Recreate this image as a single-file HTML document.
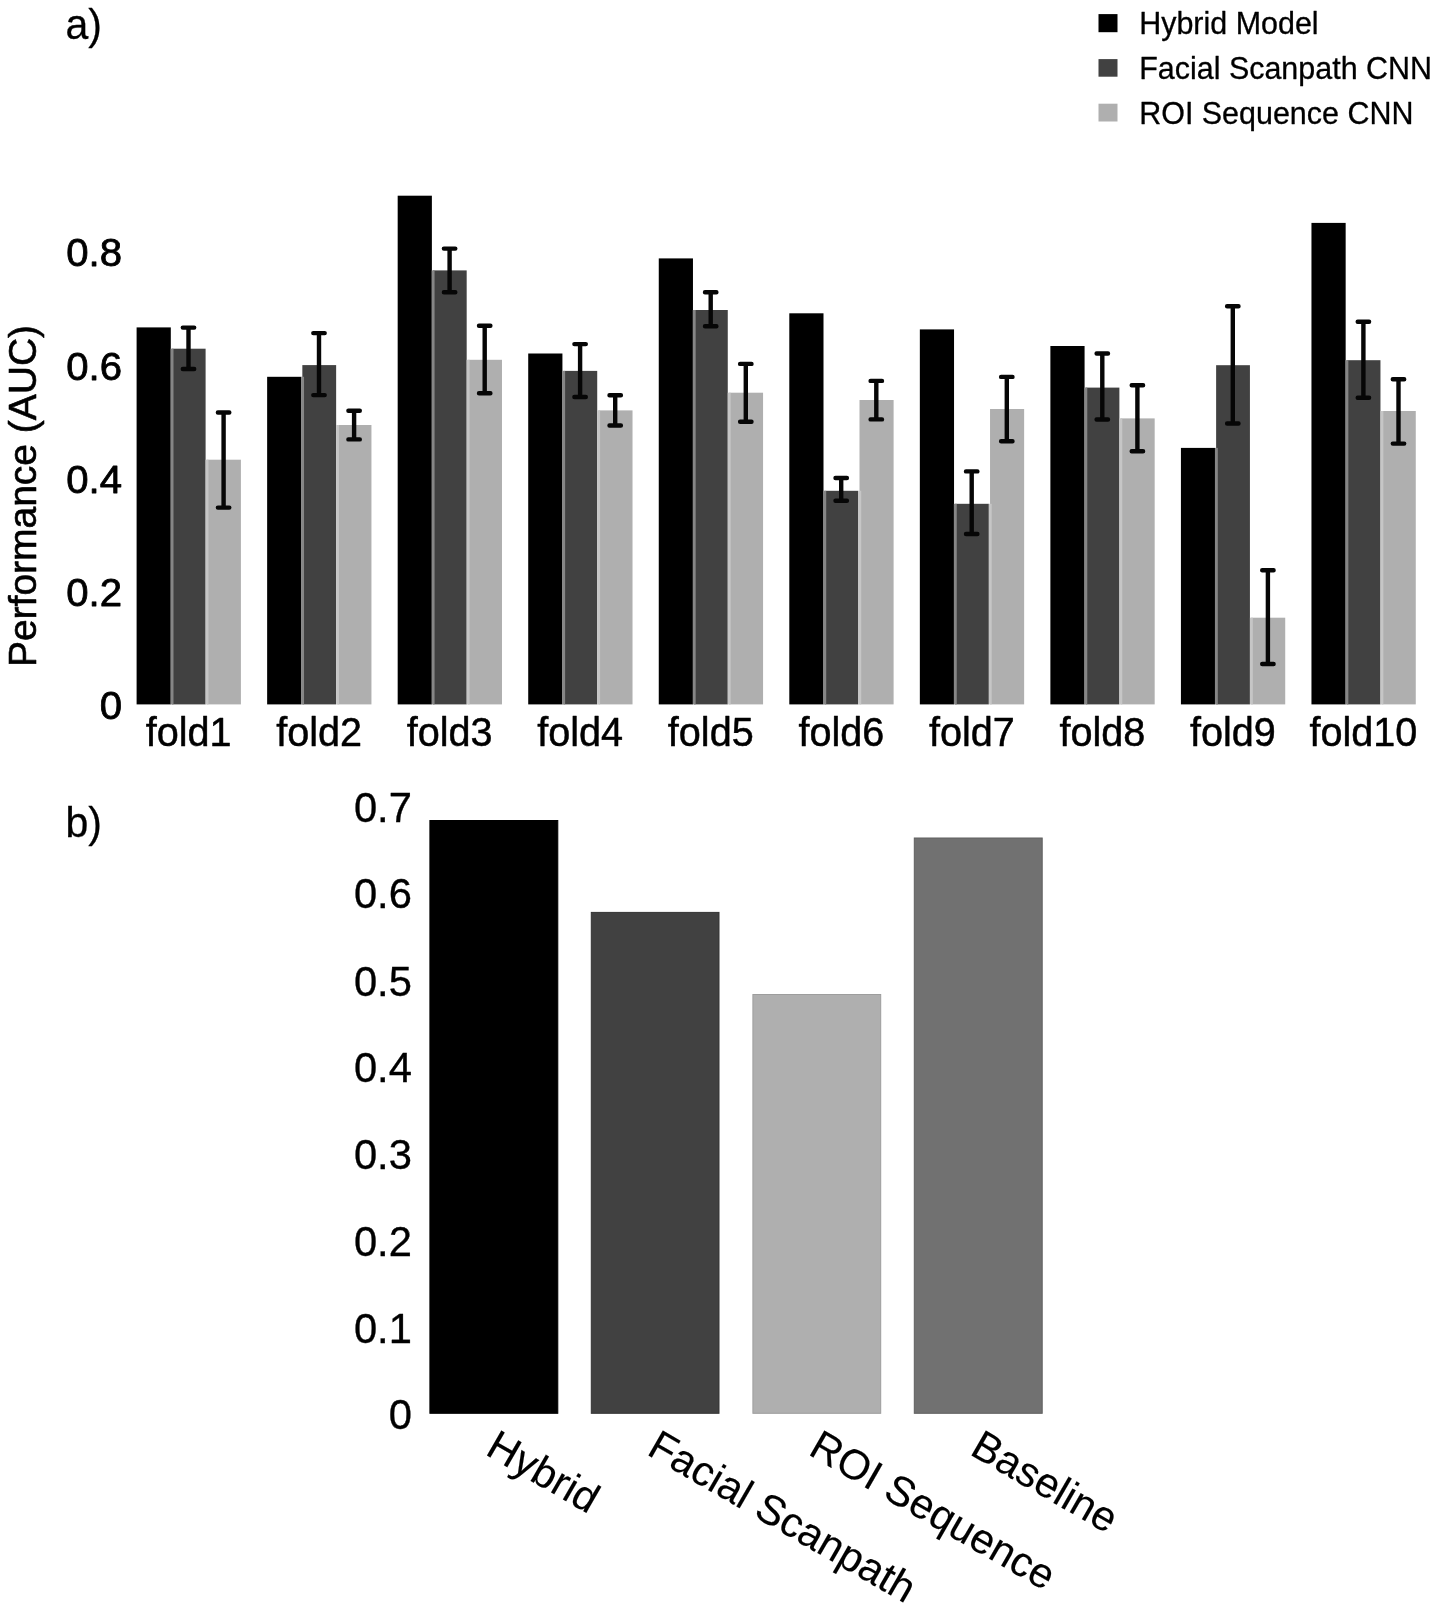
<!DOCTYPE html>
<html lang="en"><head><meta charset="utf-8"><title>Figure: model performance</title>
<style>
html,body{margin:0;padding:0;background:#fff;}
body{width:1441px;height:1612px;overflow:hidden;}
svg{display:block;}
text{font-family:"Liberation Sans", sans-serif;fill:#000;stroke:#000;stroke-width:0.8px;stroke-linejoin:round;}
</style></head><body>
<svg width="1441" height="1612" viewBox="0 0 1441 1612" style="filter:blur(0.7px)">
<rect x="0" y="0" width="1441" height="1612" fill="#ffffff"/>

<text transform="translate(65.50,39.40) scale(0.97,1)" font-size="42.3" style="stroke-width:0.3px">a)</text>
<text transform="translate(65.50,836.50) scale(0.97,1)" font-size="42.3" style="stroke-width:0.3px">b)</text>
<rect x="1098.5" y="14.1" width="19.0" height="18.1" fill="#000000"/>
<text transform="translate(1139.20,34.20) scale(0.999,1)" font-size="30.5" style="stroke-width:0.3px">Hybrid Model</text>
<rect x="1098.5" y="59.1" width="19.0" height="17.6" fill="#414141"/>
<text transform="translate(1139.20,78.60) scale(0.999,1)" font-size="30.5" style="stroke-width:0.3px">Facial Scanpath CNN</text>
<rect x="1098.5" y="103.7" width="19.0" height="17.8" fill="#afafaf"/>
<text transform="translate(1139.20,123.60) scale(0.999,1)" font-size="30.5" style="stroke-width:0.3px">ROI Sequence CNN</text>
<text transform="translate(122.00,718.80) scale(1.022,1)" font-size="39.3" text-anchor="end">0</text>
<text transform="translate(122.00,605.80) scale(1.022,1)" font-size="39.3" text-anchor="end">0.2</text>
<text transform="translate(122.00,492.75) scale(1.022,1)" font-size="39.3" text-anchor="end">0.4</text>
<text transform="translate(122.00,379.80) scale(1.022,1)" font-size="39.3" text-anchor="end">0.6</text>
<text transform="translate(122.00,266.30) scale(1.022,1)" font-size="39.3" text-anchor="end">0.8</text>
<text transform="translate(35.70,496.00) rotate(-90) scale(1.005,1)" font-size="38.8" text-anchor="middle" style="stroke-width:0.6px">Performance (AUC)</text>
<rect x="136.60" y="327.4" width="34.2" height="377.0" fill="#000000"/>
<rect x="171.80" y="348.7" width="33.8" height="355.7" fill="#414141"/>
<rect x="206.80" y="459.7" width="34.1" height="244.7" fill="#afafaf"/>
<rect x="170.60" y="348.7" width="2.9" height="355.7" fill="#868686"/>
<rect x="205.60" y="459.7" width="2.9" height="244.7" fill="#c6c6c6"/>
<path d="M182.8 327.6H194.2M182.8 369.0H194.2M188.5 327.6V369.0" stroke="#060606" stroke-width="4.4" stroke-linecap="round" fill="none"/>
<path d="M217.9 412.5H229.3M217.9 507.6H229.3M223.6 412.5V507.6" stroke="#060606" stroke-width="4.4" stroke-linecap="round" fill="none"/>
<text transform="translate(188.60,745.80) scale(0.992,1)" font-size="39.9" text-anchor="middle" style="stroke-width:0.5px">fold1</text>
<rect x="267.14" y="376.8" width="34.2" height="327.6" fill="#000000"/>
<rect x="302.34" y="365.1" width="33.8" height="339.3" fill="#414141"/>
<rect x="337.34" y="425.0" width="34.1" height="279.4" fill="#afafaf"/>
<rect x="301.14" y="376.8" width="2.9" height="327.6" fill="#868686"/>
<rect x="336.14" y="425.0" width="2.9" height="279.4" fill="#c6c6c6"/>
<path d="M313.3 333.1H324.7M313.3 395.1H324.7M319.0 333.1V395.1" stroke="#060606" stroke-width="4.4" stroke-linecap="round" fill="none"/>
<path d="M348.4 410.7H359.8M348.4 439.4H359.8M354.1 410.7V439.4" stroke="#060606" stroke-width="4.4" stroke-linecap="round" fill="none"/>
<text transform="translate(319.14,745.80) scale(0.992,1)" font-size="39.9" text-anchor="middle" style="stroke-width:0.5px">fold2</text>
<rect x="397.68" y="195.7" width="34.2" height="508.7" fill="#000000"/>
<rect x="432.88" y="270.4" width="33.8" height="434.0" fill="#414141"/>
<rect x="467.88" y="359.8" width="34.1" height="344.6" fill="#afafaf"/>
<rect x="431.68" y="270.4" width="2.9" height="434.0" fill="#868686"/>
<rect x="466.68" y="359.8" width="2.9" height="344.6" fill="#c6c6c6"/>
<path d="M443.9 248.6H455.3M443.9 292.2H455.3M449.6 248.6V292.2" stroke="#060606" stroke-width="4.4" stroke-linecap="round" fill="none"/>
<path d="M479.0 325.7H490.4M479.0 393.3H490.4M484.7 325.7V393.3" stroke="#060606" stroke-width="4.4" stroke-linecap="round" fill="none"/>
<text transform="translate(449.68,745.80) scale(0.992,1)" font-size="39.9" text-anchor="middle" style="stroke-width:0.5px">fold3</text>
<rect x="528.22" y="353.5" width="34.2" height="350.9" fill="#000000"/>
<rect x="563.42" y="370.9" width="33.8" height="333.5" fill="#414141"/>
<rect x="598.42" y="410.4" width="34.1" height="294.0" fill="#afafaf"/>
<rect x="562.22" y="370.9" width="2.9" height="333.5" fill="#868686"/>
<rect x="597.22" y="410.4" width="2.9" height="294.0" fill="#c6c6c6"/>
<path d="M574.4 344.1H585.8M574.4 397.0H585.8M580.1 344.1V397.0" stroke="#060606" stroke-width="4.4" stroke-linecap="round" fill="none"/>
<path d="M609.5 395.3H620.9M609.5 425.5H620.9M615.2 395.3V425.5" stroke="#060606" stroke-width="4.4" stroke-linecap="round" fill="none"/>
<text transform="translate(580.22,745.80) scale(0.992,1)" font-size="39.9" text-anchor="middle" style="stroke-width:0.5px">fold4</text>
<rect x="658.76" y="258.4" width="34.2" height="446.0" fill="#000000"/>
<rect x="693.96" y="310.0" width="33.8" height="394.4" fill="#414141"/>
<rect x="728.96" y="392.7" width="34.1" height="311.7" fill="#afafaf"/>
<rect x="692.76" y="310.0" width="2.9" height="394.4" fill="#868686"/>
<rect x="727.76" y="392.7" width="2.9" height="311.7" fill="#c6c6c6"/>
<path d="M705.0 292.2H716.4M705.0 326.3H716.4M710.7 292.2V326.3" stroke="#060606" stroke-width="4.4" stroke-linecap="round" fill="none"/>
<path d="M740.1 363.9H751.5M740.1 421.8H751.5M745.8 363.9V421.8" stroke="#060606" stroke-width="4.4" stroke-linecap="round" fill="none"/>
<text transform="translate(710.76,745.80) scale(0.992,1)" font-size="39.9" text-anchor="middle" style="stroke-width:0.5px">fold5</text>
<rect x="789.30" y="313.3" width="34.2" height="391.1" fill="#000000"/>
<rect x="824.50" y="490.8" width="33.8" height="213.6" fill="#414141"/>
<rect x="859.50" y="400.0" width="34.1" height="304.4" fill="#afafaf"/>
<rect x="823.30" y="490.8" width="2.9" height="213.6" fill="#868686"/>
<rect x="858.30" y="490.8" width="2.9" height="213.6" fill="#c6c6c6"/>
<path d="M835.5 478.0H846.9M835.5 500.8H846.9M841.2 478.0V500.8" stroke="#060606" stroke-width="4.4" stroke-linecap="round" fill="none"/>
<path d="M870.6 380.9H882.0M870.6 419.4H882.0M876.3 380.9V419.4" stroke="#060606" stroke-width="4.4" stroke-linecap="round" fill="none"/>
<text transform="translate(841.30,745.80) scale(0.992,1)" font-size="39.9" text-anchor="middle" style="stroke-width:0.5px">fold6</text>
<rect x="919.84" y="329.4" width="34.2" height="375.0" fill="#000000"/>
<rect x="955.04" y="503.8" width="33.8" height="200.6" fill="#414141"/>
<rect x="990.04" y="409.0" width="34.1" height="295.4" fill="#afafaf"/>
<rect x="953.84" y="503.8" width="2.9" height="200.6" fill="#868686"/>
<rect x="988.84" y="503.8" width="2.9" height="200.6" fill="#c6c6c6"/>
<path d="M966.0 471.4H977.4M966.0 534.0H977.4M971.7 471.4V534.0" stroke="#060606" stroke-width="4.4" stroke-linecap="round" fill="none"/>
<path d="M1001.1 376.9H1012.5M1001.1 441.2H1012.5M1006.8 376.9V441.2" stroke="#060606" stroke-width="4.4" stroke-linecap="round" fill="none"/>
<text transform="translate(971.84,745.80) scale(0.992,1)" font-size="39.9" text-anchor="middle" style="stroke-width:0.5px">fold7</text>
<rect x="1050.38" y="346.0" width="34.2" height="358.4" fill="#000000"/>
<rect x="1085.58" y="387.6" width="33.8" height="316.8" fill="#414141"/>
<rect x="1120.58" y="418.4" width="34.1" height="286.0" fill="#afafaf"/>
<rect x="1084.38" y="387.6" width="2.9" height="316.8" fill="#868686"/>
<rect x="1119.38" y="418.4" width="2.9" height="286.0" fill="#c6c6c6"/>
<path d="M1096.6 353.5H1108.0M1096.6 419.5H1108.0M1102.3 353.5V419.5" stroke="#060606" stroke-width="4.4" stroke-linecap="round" fill="none"/>
<path d="M1131.7 385.3H1143.1M1131.7 451.3H1143.1M1137.4 385.3V451.3" stroke="#060606" stroke-width="4.4" stroke-linecap="round" fill="none"/>
<text transform="translate(1102.38,745.80) scale(0.992,1)" font-size="39.9" text-anchor="middle" style="stroke-width:0.5px">fold8</text>
<rect x="1180.92" y="447.9" width="34.2" height="256.5" fill="#000000"/>
<rect x="1216.12" y="365.2" width="33.8" height="339.2" fill="#414141"/>
<rect x="1251.12" y="617.7" width="34.1" height="86.7" fill="#afafaf"/>
<rect x="1214.92" y="447.9" width="2.9" height="256.5" fill="#868686"/>
<rect x="1249.92" y="617.7" width="2.9" height="86.7" fill="#c6c6c6"/>
<path d="M1227.1 306.3H1238.5M1227.1 423.5H1238.5M1232.8 306.3V423.5" stroke="#060606" stroke-width="4.4" stroke-linecap="round" fill="none"/>
<path d="M1262.2 570.2H1273.6M1262.2 664.0H1273.6M1267.9 570.2V664.0" stroke="#060606" stroke-width="4.4" stroke-linecap="round" fill="none"/>
<text transform="translate(1232.92,745.80) scale(0.992,1)" font-size="39.9" text-anchor="middle" style="stroke-width:0.5px">fold9</text>
<rect x="1311.46" y="222.9" width="34.2" height="481.5" fill="#000000"/>
<rect x="1346.66" y="360.2" width="33.8" height="344.2" fill="#414141"/>
<rect x="1381.66" y="411.0" width="34.1" height="293.4" fill="#afafaf"/>
<rect x="1345.46" y="360.2" width="2.9" height="344.2" fill="#868686"/>
<rect x="1380.46" y="411.0" width="2.9" height="293.4" fill="#c6c6c6"/>
<path d="M1357.7 321.7H1369.1M1357.7 397.7H1369.1M1363.4 321.7V397.7" stroke="#060606" stroke-width="4.4" stroke-linecap="round" fill="none"/>
<path d="M1392.8 379.3H1404.2M1392.8 443.6H1404.2M1398.5 379.3V443.6" stroke="#060606" stroke-width="4.4" stroke-linecap="round" fill="none"/>
<text transform="translate(1363.46,745.80) scale(0.992,1)" font-size="39.9" text-anchor="middle" style="stroke-width:0.5px">fold10</text>
<rect x="429.9" y="820.5" width="127.9" height="592.8" fill="#000000" stroke="#000000" stroke-width="1"/>
<text transform="translate(484.00,1453.80) rotate(30) scale(1.002,1)" font-size="41.8" style="stroke-width:0.15px">Hybrid</text>
<rect x="591.3" y="912.4" width="127.7" height="500.9" fill="#414141" stroke="#343434" stroke-width="1"/>
<text transform="translate(645.40,1453.80) rotate(30) scale(1.002,1)" font-size="41.8" style="stroke-width:0.15px">Facial Scanpath</text>
<rect x="752.9" y="994.5" width="127.8" height="418.8" fill="#afafaf" stroke="#9d9d9d" stroke-width="1"/>
<text transform="translate(807.00,1453.80) rotate(30) scale(1.002,1)" font-size="41.8" style="stroke-width:0.15px">ROI Sequence</text>
<rect x="914.3" y="838.0" width="127.9" height="575.3" fill="#717171" stroke="#606060" stroke-width="1"/>
<text transform="translate(968.40,1453.80) rotate(30) scale(1.002,1)" font-size="41.8" style="stroke-width:0.15px">Baseline</text>
<text transform="translate(411.90,1429.10) scale(0.998,1)" font-size="41.8" text-anchor="end" style="stroke-width:0.35px">0</text>
<text transform="translate(411.90,1342.70) scale(0.998,1)" font-size="41.8" text-anchor="end" style="stroke-width:0.35px">0.1</text>
<text transform="translate(411.90,1255.60) scale(0.998,1)" font-size="41.8" text-anchor="end" style="stroke-width:0.35px">0.2</text>
<text transform="translate(411.90,1169.20) scale(0.998,1)" font-size="41.8" text-anchor="end" style="stroke-width:0.35px">0.3</text>
<text transform="translate(411.90,1082.20) scale(0.998,1)" font-size="41.8" text-anchor="end" style="stroke-width:0.35px">0.4</text>
<text transform="translate(411.90,995.95) scale(0.998,1)" font-size="41.8" text-anchor="end" style="stroke-width:0.35px">0.5</text>
<text transform="translate(411.90,908.40) scale(0.998,1)" font-size="41.8" text-anchor="end" style="stroke-width:0.35px">0.6</text>
<text transform="translate(411.90,822.30) scale(0.998,1)" font-size="41.8" text-anchor="end" style="stroke-width:0.35px">0.7</text>
</svg>
</body></html>
